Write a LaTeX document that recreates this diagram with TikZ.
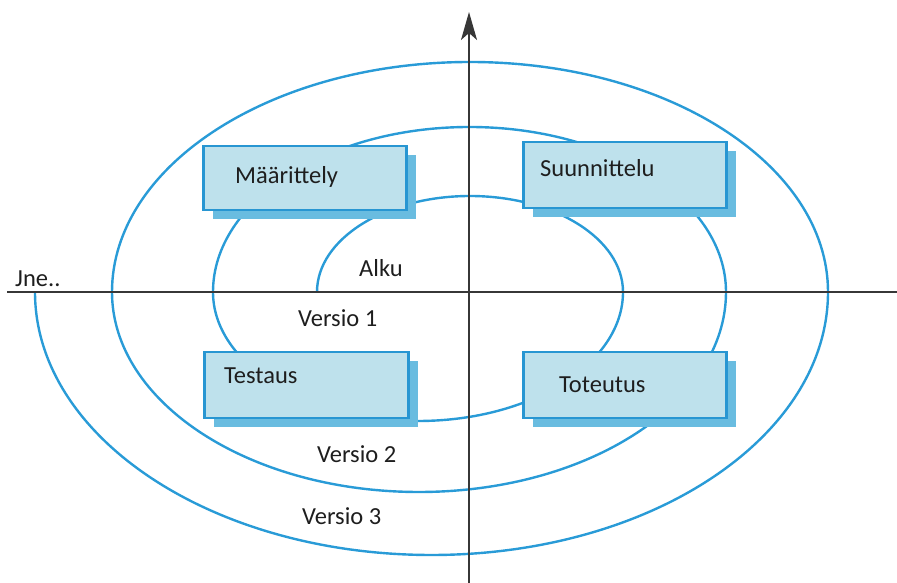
\documentclass[tikz,border=0pt]{standalone}
\usepackage{fontspec}
\setmainfont{Carlito}
\usetikzlibrary{arrows.meta,shadows}

\definecolor{spiralblue}{RGB}{41,155,215}
\definecolor{boxfill}{RGB}{190,225,236}
\definecolor{boxedge}{RGB}{40,150,210}
\definecolor{boxshadow}{RGB}{105,188,224}
\definecolor{axisgray}{RGB}{55,55,55}
\definecolor{labeltext}{RGB}{30,30,30}

\tikzset{
  spiral/.style={draw=spiralblue, line width=2.4pt},
  axis/.style={draw=axisgray, line width=1.8pt},
  phasebox/.style={draw=boxedge, fill=boxfill, line width=2.6pt,
    minimum width=203pt, minimum height=64pt, inner sep=0pt,
    general shadow={fill=boxshadow, shadow xshift=9pt, shadow yshift=-9pt}},
  lbl/.style={text=labeltext, font=\fontsize{24.5}{28}\selectfont,
    inner sep=0pt, anchor=base west}
}

\begin{document}
\begin{tikzpicture}[x=1pt,y=1pt]
  \useasboundingbox (0,0) rectangle (897,583);

  % the growing spiral of versions
  \draw[spiral] (317,291)
    arc[start angle=180, end angle=0,    x radius=153pt,   y radius=96pt]
    arc[start angle=0,   end angle=-180, x radius=205pt,   y radius=129pt]
    arc[start angle=180, end angle=0,    x radius=256.5pt, y radius=165pt]
    arc[start angle=0,   end angle=-180, x radius=307pt,   y radius=200pt]
    arc[start angle=180, end angle=0,    x radius=358pt,   y radius=230pt]
    arc[start angle=0,   end angle=-180, x radius=396.5pt, y radius=263pt];

  % axes
  \coordinate (hl) at (7,291);
  \coordinate (hr) at (897,291);
  \coordinate (vb) at (469,0);
  \coordinate (vt) at (469,571);
  \draw[axis] (hl) -- (hr);
  \draw[axis, -{Stealth[length=28pt, width=16pt, inset=7pt]}] (vb) -- (vt);

  % phase boxes
  \node[phasebox] (maar) at (305,405) {};
  \node[phasebox, minimum height=66pt] (suun) at (625,408) {};
  \node[phasebox, minimum width=204pt, minimum height=66pt] (test) at (306.5,198) {};
  \node[phasebox, minimum height=66pt] (tote) at (625,198) {};

  % phase names
  \node[lbl] (tmaar) at (235,399) {Määrittely};
  \node[lbl] (tsuun) at (540,406) {Suunnittelu};
  \node[lbl] (ttest) at (224,199) {Testaus};
  \node[lbl] (ttote) at (559,190) {Toteutus};

  % round labels
  \node[lbl] (alku) at (359,306) {Alku};
  \node[lbl] (v1) at (298,256) {Versio 1};
  \node[lbl] (v2) at (317,120) {Versio 2};
  \node[lbl] (v3) at (302,58) {Versio 3};
  \node[lbl] (jne) at (15,296) {Jne..};
\end{tikzpicture}
\end{document}
